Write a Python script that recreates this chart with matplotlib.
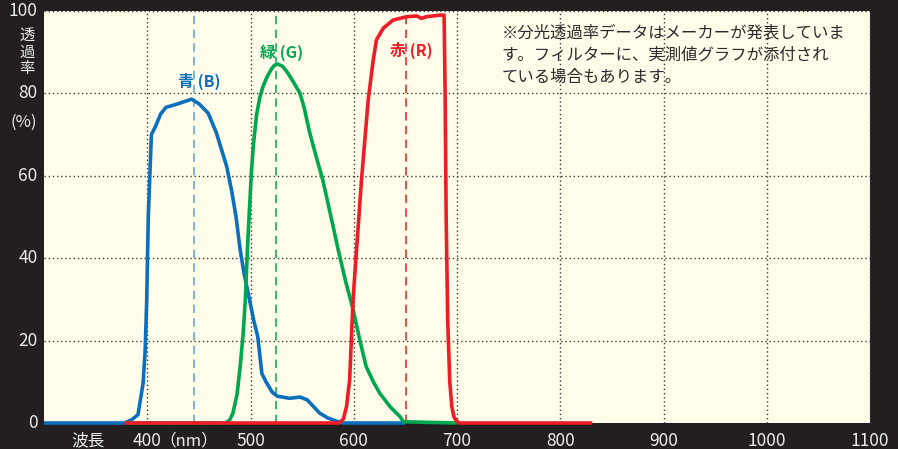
import matplotlib
matplotlib.use("Agg")
import matplotlib.pyplot as plt

plt.rcParams['font.family'] = ['Noto Sans CJK JP', 'DejaVu Sans']

# Spectral transmission curves (wavelength in nm, transmission in %)
blue_nm = [300, 378, 385, 391, 396, 398, 399.5, 401, 404, 408, 413, 418, 430, 443, 450, 459,
           467, 477, 482, 486, 490, 494, 499, 503, 507, 511, 515, 521, 526, 538, 548, 555,
           561, 567, 575, 584, 590, 650]
blue_t = [0, 0, 0.8, 2, 9.7, 17.7, 30, 50, 70, 72, 75, 76.6, 77.5, 78.6, 77.5, 75.2,
          70.4, 62.2, 56, 50, 42, 36, 30, 25, 21, 12, 10, 7.5, 6.5, 6, 6.3, 5.6,
          4, 2.4, 1.2, 0.4, 0, 0]

green_nm = [380, 476, 480, 483, 487, 490, 493, 495, 497, 499, 501, 503, 506, 509, 512, 516,
            520, 523, 526.5, 531, 536, 542, 548, 552, 557, 563, 570, 578, 585, 592, 599.5,
            606, 612, 619, 625, 635, 645, 648, 700]
green_t = [0, 0, 0.8, 2.4, 7, 13.7, 22, 30, 42, 52, 61.4, 68, 75, 79, 81.6, 84,
           85.8, 86.8, 87.1, 86.6, 85, 82.6, 80, 76.5, 70.8, 65.2, 59, 50, 42, 34.5, 27.4,
           20, 13.7, 10, 7.3, 4, 1.5, 0.3, 0]

red_nm = [378, 586, 590, 593, 596, 599.4, 602.7, 607.5, 614, 618.8, 622, 628.5, 638, 651,
          661, 665.6, 670, 676.6, 683.4, 687.5, 688.5, 689.5, 691, 693, 695, 697, 699.5,
          702, 831]
red_t = [0, 0, 1, 4, 10.4, 30.3, 42, 59, 78.4, 88, 93, 95.8, 97.8, 98.6,
         98.8, 98.2, 98.6, 98.8, 99, 99, 80, 50, 25, 10, 4, 1.5, 0.5,
         0, 0]

# centre wavelengths (dashed markers)
peak_nm = [445, 524.5, 650.5]

x_ticks = [400, 500, 600, 700, 800, 900, 1000, 1100]
y_ticks = [0, 20, 40, 60, 80, 100]

note_lines = ['※分光透過率データはメーカーが発表していま',
              'す。フィルターに、実測値グラフが添付され',
              'ている場合もあります。']

BLUE = '#0a6fbd'
GREEN = '#00a650'
RED = '#ee1c25'
DARK = '#231f20'
LABEL = '#ececec'

fig = plt.figure(figsize=(8.98, 4.49), dpi=100, facecolor=DARK)
ax = fig.add_axes([44 / 898, 26 / 449, 826 / 898, 412 / 449])
ax.set_facecolor('#fffce9')
ax.set_xlim(300, 1100)
ax.set_ylim(0, 100)
for s in ax.spines.values():
    s.set_visible(False)
ax.set_xticks([])
ax.set_yticks([])

# dotted grid (incl. top and right edges)
dot = dict(color='#3a3a3a', lw=1.0, linestyle=(0, (1, 2)), zorder=1)
for x in x_ticks[:-1]:
    ax.axvline(x, **dot)
ax.axvline(1100, clip_on=False, **dot)
for y in y_ticks[1:-1]:
    ax.axhline(y, **dot)
ax.axhline(100, clip_on=False, **dot)

# dashed centre lines
ax.axvline(peak_nm[0], color='#4fa3dc', lw=1.1, dashes=(5.5, 3.5), zorder=2)
ax.axvline(peak_nm[1], color=GREEN, lw=1.1, dashes=(5.5, 3.5), zorder=2)
ax.axvline(peak_nm[2], color=RED, lw=1.1, dashes=(5.5, 3.5), zorder=2)

# curves
kw = dict(lw=2.6, solid_joinstyle='round', solid_capstyle='butt', clip_on=False)
ax.plot(blue_nm, blue_t, color=BLUE, zorder=3, **kw)
ax.plot(green_nm, green_t, color=GREEN, zorder=4, **kw)
ax.plot(red_nm, red_t, color=RED, zorder=5, **kw)

# curve labels
ax.text(450, 82.8, '青 (B)', color=BLUE, fontsize=11.5, fontweight='bold',
        ha='center', va='center', zorder=6)
ax.text(530, 90, '緑 (G)', color=GREEN, fontsize=11.5, fontweight='bold',
        ha='center', va='center', zorder=6)
ax.text(656, 90.5, '赤 (R)', color=RED, fontsize=11.5, fontweight='bold',
        ha='center', va='center', zorder=6)

# note
for i, line in enumerate(note_lines):
    ax.text(743, 94.6 - i * 5.35, line, color='#2a2a2a', fontsize=11.8,
            ha='left', va='center', zorder=6)

# axis labels on the dark frame
xt = ax.get_xaxis_transform()
for x in x_ticks:
    ax.text(x, -0.044, str(x), transform=xt, color=LABEL, fontsize=12.5,
            ha='center', va='center', clip_on=False)
ax.text(412, -0.044, '（nm）', transform=xt, color=LABEL, fontsize=12,
        ha='left', va='center', clip_on=False)
ax.text(0.053, -0.044, '波長', transform=ax.transAxes, color=LABEL, fontsize=12,
        ha='center', va='center', clip_on=False)

yt = ax.get_yaxis_transform()
for y in y_ticks:
    ax.text(-0.008, y, str(y), transform=yt, color=LABEL, fontsize=12.5,
            ha='right', va='center', clip_on=False)
for i, ch in enumerate('透過率'):
    fig.text(27 / 898, 1 - (35 + i * 17) / 449, ch, color=LABEL, fontsize=11,
             ha='center', va='center')
fig.text(24 / 898, 1 - 122 / 449, '(%)', color=LABEL, fontsize=12,
         ha='center', va='center')

fig.savefig('out.png', dpi=100, facecolor=DARK)
